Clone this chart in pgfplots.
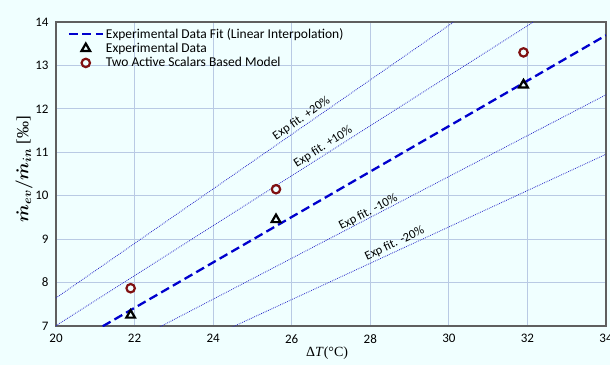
\documentclass[border=0pt]{standalone}
\usepackage{pgfplots}
\pgfplotsset{compat=1.18}
\usepackage{amsmath}
\usepackage{bm}
\usepackage{fontspec}
\setmainfont{Carlito}
\newfontfamily\serif{Liberation Serif}
\definecolor{bgc}{RGB}{240,255,255}
\definecolor{gridc}{RGB}{185,202,228}
\definecolor{framec}{RGB}{95,95,95}
\definecolor{fitc}{RGB}{0,0,205}
\definecolor{dotc}{RGB}{40,40,200}
\definecolor{modc}{RGB}{128,16,16}
\begin{document}
\begin{tikzpicture}
\path[use as bounding box, fill=bgc] (-56pt,-39pt) rectangle (554pt,326pt);
\begin{axis}[
  at={(0,0)}, anchor=south west,
  scale only axis, width=550pt, height=304pt,
  xmin=20, xmax=34, ymin=7, ymax=14,
  xtick={20,22,...,34}, ytick={7,8,...,14},
  grid=major, major grid style={gridc, line width=0.8pt},
  axis line style={framec, line width=1.3pt},
  tick style={draw=none},
  /pgf/number format/assume math mode=true,
  ticklabel style={font=\fontsize{13}{15}\selectfont},
  xticklabel style={yshift=-5pt},
  yticklabel style={xshift=-4pt},
  xlabel={{\serif\fontsize{14}{16}\selectfont Δ\textit{T}(°C)}},
  xlabel style={at={(axis description cs:0.493,-0.09)}, anchor=center},
  ylabel={{\boldmath$\dot{m}_{ev}/\dot{m}_{in}$} {\serif [‰]}},
  ylabel style={at={(axis description cs:-0.058,0.516)}, anchor=center, rotate=0, font=\fontsize{17}{18}\selectfont},
  legend style={at={(axis description cs:0.019,0.99)}, anchor=north west, draw=none, fill=none,
    font=\fontsize{13.5}{16}\selectfont, row sep=-0.5pt, inner sep=1pt,
    nodes={inner sep=2pt}},
  legend image code/.code={
    \draw[mark repeat=2,mark phase=2] plot coordinates {(0pt,0pt) (17pt,0pt) (34pt,0pt)};},
  legend cell align=left,
  clip=true,
]
\addplot[fitc, line width=2.3pt, dash pattern=on 9pt off 4.5pt] coordinates {(20,6.372) (34,13.694)};
\addlegendentry{Experimental Data Fit (Linear Interpolation)}
\addplot[only marks, mark=triangle, mark size=5pt, mark options={black, line width=2.2pt}] coordinates {(21.9,7.25) (25.6,9.45) (31.9,12.55)};
\addlegendentry{Experimental Data}
\addplot[only marks, mark=o, mark size=4.2pt, mark options={modc, line width=2.2pt}] coordinates {(21.9,7.87) (25.6,10.15) (31.9,13.3)};
\addlegendentry{Two Active Scalars Based Model}
\addplot[dotc, line width=0.8pt, dash pattern=on 0.8pt off 1.1pt, forget plot] coordinates {(20,7.646) (34,16.433)};
\addplot[dotc, line width=0.8pt, dash pattern=on 0.8pt off 1.1pt, forget plot] coordinates {(20,7.009) (34,15.063)};
\addplot[dotc, line width=0.8pt, dash pattern=on 0.8pt off 1.1pt, forget plot] coordinates {(20,5.735) (34,12.325)};
\addplot[dotc, line width=0.8pt, dash pattern=on 0.8pt off 1.1pt, forget plot] coordinates {(20,5.098) (34,10.955)};
\node[rotate=34.8, font=\fontsize{12.5}{14}\selectfont, inner sep=0pt] at (axis cs:26.25,11.78) {Exp fit. +20\%};
\node[rotate=32.5, font=\fontsize{12.5}{14}\selectfont, inner sep=0pt] at (axis cs:26.8,11.12) {Exp fit. +10\%};
\node[rotate=27.5, font=\fontsize{12.5}{14}\selectfont, inner sep=0pt] at (axis cs:27.95,9.62) {Exp fit. -10\%};
\node[rotate=25, font=\fontsize{12.5}{14}\selectfont, inner sep=0pt] at (axis cs:28.62,8.9) {Exp fit. -20\%};
\end{axis}
\end{tikzpicture}
\end{document}
